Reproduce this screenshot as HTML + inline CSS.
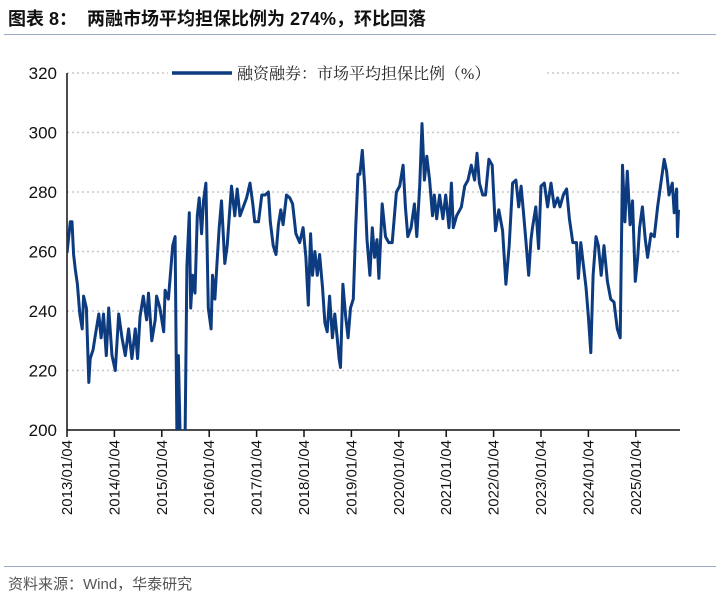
<!DOCTYPE html>
<html><head><meta charset="utf-8">
<style>
body{margin:0;background:#fff;width:720px;height:600px;overflow:hidden;font-family:"Liberation Sans","Noto Sans CJK SC",sans-serif}
.title{position:absolute;left:8px;top:5px;font-size:18px;font-weight:bold;color:#111}
.rule{position:absolute;left:4px;width:712px;height:1px;background:#9aa9c6}
.src{position:absolute;left:8px;top:573px;font-size:15px;color:#555}
</style></head><body>
<div class="title">图表 8：&nbsp;&nbsp;两融市场平均担保比例为 274%，环比回落</div>
<div class="rule" style="top:34px"></div>
<div class="rule" style="top:566px"></div>
<div class="src">资料来源：Wind，华泰研究</div>
<svg id="c" width="720" height="600" style="position:absolute;left:0;top:0"></svg>
<script>
const yTicks=[200,220,240,260,280,300,320];
const xTickYears=[2013,2014,2015,2016,2017,2018,2019,2020,2021,2022,2023,2024,2025];
const dates=[2013.00,2013.07,2013.105,2013.14,2013.175,2013.22,2013.27,2013.32,2013.35,2013.41,2013.46,2013.49,2013.55,2013.60,2013.67,2013.72,2013.77,2013.83,2013.88,2013.95,
2014.02,2014.09,2014.16,2014.23,2014.30,2014.37,2014.44,2014.49,2014.54,2014.61,2014.68,2014.72,2014.79,2014.86,2014.89,2014.96,
2015.04,2015.07,2015.14,2015.19,2015.23,2015.28,2015.32,2015.35,2015.39,2015.42,2015.49,2015.53,2015.58,2015.61,2015.65,2015.70,2015.75,2015.79,2015.84,2015.88,2015.93,2015.98,
2016.04,2016.07,2016.12,2016.16,2016.21,2016.26,2016.33,2016.38,2016.42,2016.47,2016.54,2016.59,2016.65,2016.72,2016.79,2016.86,2016.92,2016.96,
2017.04,2017.11,2017.18,2017.25,2017.29,2017.35,2017.41,2017.46,2017.51,2017.56,2017.63,2017.70,2017.76,2017.83,2017.91,2017.98,
2018.04,2018.09,2018.14,2018.18,2018.23,2018.28,2018.33,2018.39,2018.44,2018.49,2018.54,2018.60,2018.65,2018.70,2018.74,2018.77,2018.82,2018.88,2018.93,2018.98,
2019.04,2019.09,2019.14,2019.18,2019.23,2019.28,2019.33,2019.39,2019.44,2019.49,2019.54,2019.58,2019.65,2019.72,2019.79,2019.86,2019.95,
2020.02,2020.09,2020.14,2020.19,2020.26,2020.33,2020.38,2020.44,2020.49,2020.54,2020.59,2020.65,2020.71,2020.75,2020.80,2020.86,2020.93,2020.99,
2021.06,2021.11,2021.15,2021.22,2021.32,2021.39,2021.46,2021.53,2021.60,2021.65,2021.70,2021.77,2021.83,2021.90,2021.97,
2022.04,2022.11,2022.19,2022.26,2022.33,2022.40,2022.47,2022.53,2022.58,2022.63,2022.68,2022.74,2022.79,2022.82,2022.89,2022.95,
2023.00,2023.07,2023.14,2023.21,2023.28,2023.35,2023.40,2023.47,2023.54,2023.60,2023.67,2023.75,2023.79,2023.84,2023.89,2023.95,
2024.00,2024.05,2024.10,2024.16,2024.21,2024.27,2024.33,2024.40,2024.47,2024.54,2024.61,2024.67,2024.72,2024.77,2024.82,2024.88,2024.93,2024.99,
2025.04,2025.08,2025.14,2025.20,2025.25,2025.32,2025.39,2025.46,2025.53,2025.60,2025.65,2025.70,2025.77,2025.81,2025.86,2025.88,2025.90];
const ratio=[259.5,270,270,259,254,249,239,234,245,241,216,224,227,232,239,231,239,225,241,225,
220,239,231,225,234,224,234,224,238,245,237,246,230,237,245,241,
233,247,244,254,262,265,195,225,195,195,195,255,273,241,252,246,272,278,266,277,283,241,
234,252,244,255,268,277,256,262,271,282,272,281,272,275,278,283,276,270,
270,279,279,280,270,262,259,269,274,269,279,278,276,266,263,268,
258,242,266,252,260,252,259,248,236,233,245,231,239,231,224,221,249,238,231,241,
244,268,286,286,294,282,264,252,268,258,264,251,276,265,263,263,280,
282,289,275,265,268,276,265,282,303,284,292,284,272,279,271,279,271,279,
268,283,268,272,275,282,284,289,284,293,283,279,279,291,289,
267,274,267,249,262,283,284,275,282,273,264,252,264,268,275,261,
282,283,275,283,275,278,275,279,281,271,263,263,251,263,256,248,
238,226,252,265,262,252,262,250,244,243,234,231,289,270,287,269,277,250,
258,268,275,264,258,266,265,275,283,291,287,279,283,273,281,265,274];
const NS='http://www.w3.org/2000/svg',svg=document.getElementById('c');
const X0=67,X1=680,Y0=430,Y1=73;
const xs=y=>X0+(y-2013)*47.4;
const ys=v=>Y0-(v-200)*(Y0-Y1)/120;
function mk(t,a){const e=document.createElementNS(NS,t);for(const k in a)e.setAttribute(k,a[k]);svg.appendChild(e);return e;}
const defs=mk('defs',{});const cp=document.createElementNS(NS,'clipPath');cp.setAttribute('id','pc');defs.appendChild(cp);
const r=document.createElementNS(NS,'rect');r.setAttribute('x',X0);r.setAttribute('y',Y1-10);r.setAttribute('width',X1-X0+5);r.setAttribute('height',Y0-Y1+10);cp.appendChild(r);
yTicks.forEach(v=>{
 if(v>200){const g=mk('line',{x1:X0,x2:X1,y1:ys(v),y2:ys(v),stroke:'#c8c8c8','stroke-width':1.5,'stroke-dasharray':'2,3'});
 }
 const t=mk('text',{x:57,y:ys(v)+6,'text-anchor':'end','font-size':17,fill:'#111'});t.textContent=v;
 
});
xTickYears.forEach(yr=>{
 const x=xs(yr);
 const tk=mk('line',{x1:x,x2:x,y1:Y0,y2:Y0+7,stroke:'#111','stroke-width':1.5});
 
 const t=mk('text',{x:0,y:0,'text-anchor':'end','font-size':15,fill:'#111',transform:`translate(${x+5},${Y0+10}) rotate(-90)`});
 t.textContent=yr+'/01/04';
 
});
const ya=mk('line',{x1:X0,x2:X0,y1:Y1,y2:Y0,stroke:'#111','stroke-width':1.5});

const xa=mk('line',{x1:X0,x2:X1,y1:Y0,y2:Y0,stroke:'#111','stroke-width':1.5});

const d=dates.map((t,i)=>(i?'L':'M')+xs(t).toFixed(1)+','+ys(ratio[i]).toFixed(1)).join('');
const p=mk('path',{d:d,fill:'none',stroke:'#0d3b80','stroke-width':3,'stroke-linejoin':'round','clip-path':'url(#pc)'});

const lr=mk('rect',{x:168,y:64,width:378,height:18,fill:'#fff'});

const ll=mk('line',{x1:172,x2:232,y1:73,y2:73,stroke:'#0d3b80','stroke-width':3.5});

const lt=mk('text',{x:237,y:79,'font-size':16,fill:'#222','font-family':'"Liberation Serif","Noto Serif CJK SC",serif'});
lt.textContent='融资融券：市场平均担保比例（%）';

</script>
</body></html>
